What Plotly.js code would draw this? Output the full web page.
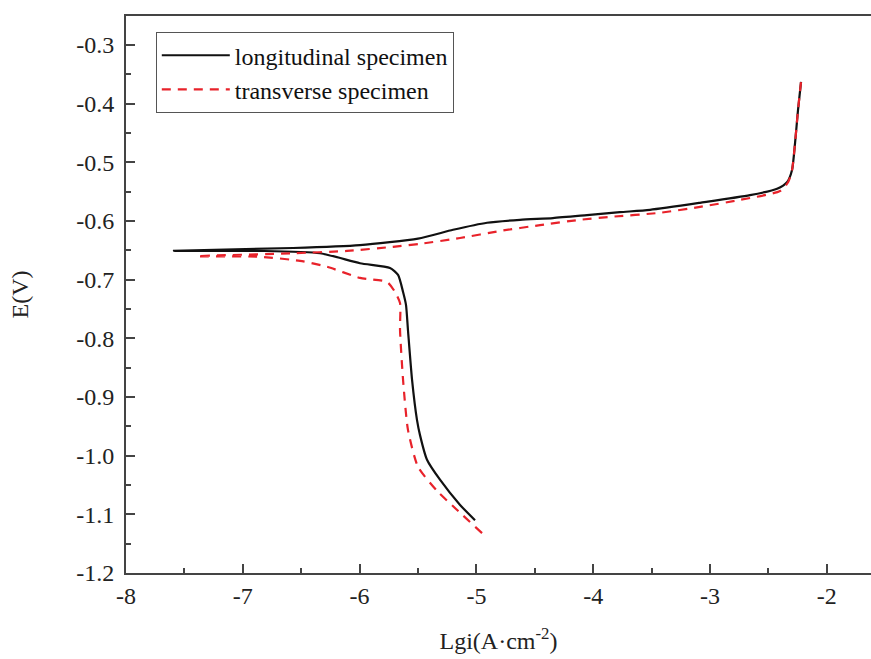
<!DOCTYPE html>
<html>
<head>
<meta charset="utf-8">
<script src="https://cdn.plot.ly/plotly-3.0.1.min.js"></script>
<style>html,body{margin:0;padding:0;background:#fff;}#chart{width:871px;height:659px;}</style>
</head>
<body>
<div id="chart"></div>
<script>
// longitudinal specimen: cathodic branch (from bottom up to Ecorr) then anodic branch
var longX = [-5.012, -5.140, -5.312, -5.423, -5.483, -5.509, -5.551, -5.586, -5.603, -5.628, -5.671, -5.740, -5.997, -6.339, -6.853, -7.589,
             -6.570, -5.997, -5.500, -5.200, -4.909, -4.627, -4.345, -4.053, -3.771, -3.514, -3.086, -2.658, -2.426, -2.341, -2.298, -2.272, -2.247, -2.221];
var longE = [-1.110, -1.084, -1.041, -1.007, -0.965, -0.939, -0.871, -0.786, -0.743, -0.721, -0.692, -0.680, -0.672, -0.655, -0.651, -0.651,
             -0.646, -0.641, -0.630, -0.615, -0.603, -0.598, -0.595, -0.590, -0.585, -0.581, -0.569, -0.556, -0.545, -0.534, -0.513, -0.467, -0.411, -0.363];
// transverse specimen
var transX = [-4.952, -5.158, -5.337, -5.500, -5.586, -5.628, -5.654, -5.654, -5.697, -5.765, -5.997, -6.279, -6.510, -6.853, -7.392,
              -6.570, -6.108, -5.714, -5.483, -5.140, -4.798, -4.455, -4.113, -3.856, -3.428, -3.086, -2.743, -2.401, -2.332, -2.298, -2.272, -2.247, -2.221];
var transE = [-1.132, -1.094, -1.060, -1.019, -0.956, -0.871, -0.786, -0.740, -0.721, -0.704, -0.697, -0.678, -0.668, -0.661, -0.660,
              -0.655, -0.651, -0.644, -0.639, -0.629, -0.617, -0.607, -0.598, -0.593, -0.586, -0.576, -0.564, -0.549, -0.534, -0.513, -0.467, -0.411, -0.363];
var xTicks = [-8, -7, -6, -5, -4, -3, -2];
var xTickText = ['-8', '-7', '-6', '-5', '-4', '-3', '-2'];
var yTicks = [-1.2, -1.1, -1.0, -0.9, -0.8, -0.7, -0.6, -0.5, -0.4, -0.3];
var yTickText = ['-1.2', '-1.1', '-1.0', '-0.9', '-0.8', '-0.7', '-0.6', '-0.5', '-0.4', '-0.3'];

var font = 'Liberation Serif, Times New Roman, serif';
var traces = [
  {x: longX, y: longE, mode: 'lines', name: 'longitudinal specimen',
   line: {color: '#111111', width: 2.2, shape: 'spline', smoothing: 0.6}},
  {x: transX, y: transE, mode: 'lines', name: 'transverse specimen',
   line: {color: '#e8222a', width: 2.2, dash: '9px,7px', shape: 'spline', smoothing: 0.6}}
];
var axisColor = '#444444';
var layout = {
  width: 871, height: 659,
  margin: {l: 126, r: 0, t: 16, b: 86},
  paper_bgcolor: '#ffffff', plot_bgcolor: '#ffffff',
  font: {family: font, size: 24, color: '#222222'},
  showlegend: true,
  legend: {x: 0.040, y: 0.971, xanchor: 'left', yanchor: 'top', itemwidth: 68,
           bgcolor: '#ffffff', bordercolor: '#555555', borderwidth: 1,
           font: {family: font, size: 24, color: '#111111'}, tracegroupgap: 0},
  xaxis: {
    range: [-8, -1.622], tickvals: xTicks, ticktext: xTickText, ticks: 'inside', ticklen: 9, tickwidth: 2, tickcolor: axisColor,
    minor: {dtick: 0.5, ticks: 'inside', ticklen: 5, tickwidth: 2, tickcolor: axisColor},
    showline: true, linecolor: axisColor, linewidth: 2, mirror: true,
    showgrid: false, zeroline: false,
    tickfont: {family: font, size: 24, color: '#222222'},
    title: {text: 'Lgi(A·cm<sup>-2</sup>)', font: {family: font, size: 24, color: '#222222'}, standoff: 24}
  },
  yaxis: {
    range: [-1.2, -0.2506], tickvals: yTicks, ticktext: yTickText, ticks: 'inside', ticklen: 9, tickwidth: 2, tickcolor: axisColor,
    minor: {dtick: 0.05, ticks: 'inside', ticklen: 5, tickwidth: 2, tickcolor: axisColor},
    showline: true, linecolor: axisColor, linewidth: 2, ticklabelstandoff: 5,
    showgrid: false, zeroline: false,
    tickfont: {family: font, size: 24, color: '#222222'},
    title: {text: 'E(V)', font: {family: font, size: 24, color: '#222222'}, standoff: 41}
  }
};
Plotly.newPlot('chart', traces, layout, {displayModeBar: false, staticPlot: true});
</script>
</body>
</html>
